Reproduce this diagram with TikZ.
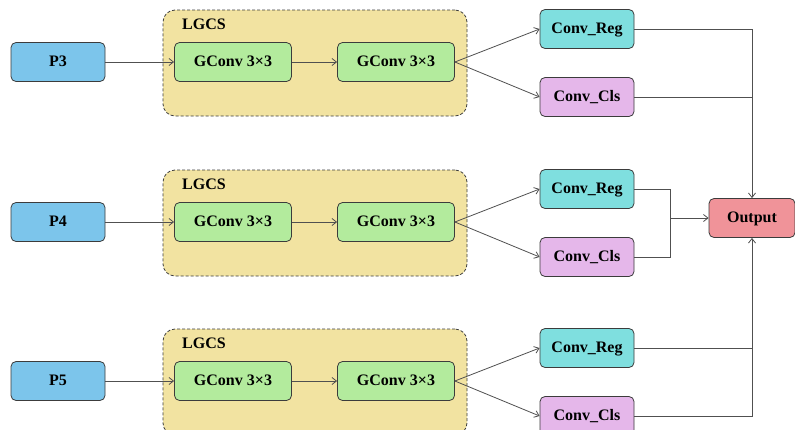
\documentclass[tikz,border=0pt]{standalone}
\usepackage{fontspec}
\setmainfont{Liberation Serif}
\usetikzlibrary{arrows.meta}

\definecolor{inblue}{HTML}{7CC5EB}
\definecolor{gconvgreen}{HTML}{B3EB9D}
\definecolor{lgcsfill}{HTML}{F2E3A1}
\definecolor{regcyan}{HTML}{7FDFDF}
\definecolor{clslilac}{HTML}{E5B7EA}
\definecolor{outred}{HTML}{F09399}
\definecolor{edgecol}{HTML}{3C3C3C}
\definecolor{linecol}{HTML}{505050}

\tikzset{
  box/.style={draw=edgecol, line width=0.8pt, rounded corners=5pt,
    minimum height=39pt, inner sep=0pt, align=center,
    text height=11pt, text depth=2pt},
  inbox/.style={box, fill=inblue, minimum width=94pt},
  gbox/.style={box, fill=gconvgreen, minimum width=117pt},
  regbox/.style={box, fill=regcyan, minimum width=94pt},
  clsbox/.style={box, fill=clslilac, minimum width=94pt},
  outbox/.style={box, fill=outred, minimum width=86pt},
  group/.style={draw=edgecol, dash pattern=on 3pt off 2pt, line width=0.8pt, fill=lgcsfill,
    rounded corners=12pt, minimum width=304pt, minimum height=106pt, inner sep=0pt},
  link/.style={draw=linecol, line width=0.8pt},
  arrow/.style={link, -{Straight Barb[length=4.5pt,width=7pt]}}
}

\begin{document}
\begin{tikzpicture}[x=1pt, y=-1pt, font=\fontsize{16}{19}\selectfont\bfseries]
\useasboundingbox (0,0) rectangle (795,429);
\clip (0,0) rectangle (795,429);
\fill[white] (0,0) rectangle (795,429);

% three identical branches: input, LGCS block, two heads
\foreach \r/\dy/\lab in {1/0/P3, 2/160/P4, 3/319/P5}{
  \node[group] (grp\r) at (315,{63+\dy}) {};
  \node[anchor=center] (lg\r) at (204,{24+\dy}) {LGCS};
  \node[inbox] (p\r) at (58,{62+\dy}) {\lab};
  \node[gbox] (ga\r) at (233,{62+\dy}) {GConv 3×3};
  \node[gbox] (gb\r) at (396,{62+\dy}) {GConv 3×3};
  \node[regbox] (reg\r) at (587,{29+\dy}) {Conv\_Reg};
  \node[clsbox] (cls\r) at (587,{97+\dy}) {Conv\_Cls};
  \draw[arrow] (p\r) -- (ga\r);
  \draw[arrow] (ga\r) -- (gb\r);
  \draw[arrow] (gb\r.east) -- (reg\r.west);
  \draw[arrow] (gb\r.east) -- (cls\r.west);
}

\node[outbox] (out) at (752,218) {Output};

% top branch joins from above
\draw[arrow] (reg1.east) -| (out.north);
\draw[link] (cls1.east) -- (cls1.east -| out.north);

% middle branch merges and enters from the left
\coordinate (mj) at (670,218);
\draw[link] (reg2.east) -| (mj);
\draw[link] (cls2.east) -| (mj);
\draw[arrow] (mj) -- (out.west);

% bottom branch joins from below
\draw[arrow] (cls3.east) -| (out.south);
\draw[link] (reg3.east) -- (reg3.east -| out.south);
\end{tikzpicture}
\end{document}
